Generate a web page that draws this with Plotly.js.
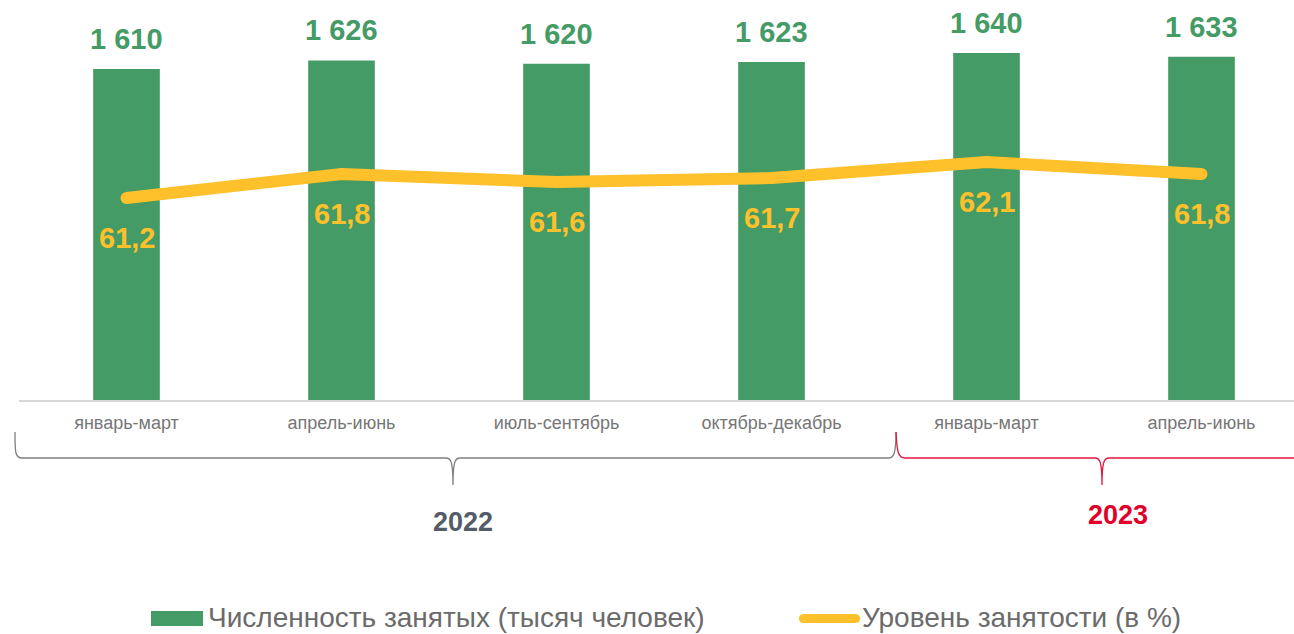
<!DOCTYPE html>
<html>
<head>
<meta charset="utf-8">
<script src="https://cdn.plot.ly/plotly-3.0.1.min.js"></script>
<style>html,body{margin:0;padding:0;background:#fff;}#chart{width:1294px;height:634px;}</style>
</head>
<body>
<div id="chart"></div>
<script>
// ---- data ----
var periods = ["январь-март", "апрель-июнь", "июль-сентябрь", "октябрь-декабрь", "январь-март", "апрель-июнь"];
var employed = [1610, 1626, 1620, 1623, 1640, 1633];       // тысяч человек
var employmentRate = [61.2, 61.8, 61.6, 61.7, 62.1, 61.8];  // %
var years = ["2022", "2023"];
var seriesNames = ["Численность занятых (тысяч человек)", "Уровень занятости (в %)"];

// ---- style ----
var GREEN = "#459B65", YELLOW = "#FFC12B", GREY_TXT = "#767676";
var W = 1294, H = 634, ML = 19, MR = 0, MT = 0, MB = 234;
var PW = W - ML - MR, PH = H - MT - MB;
function px(x) { return (x - ML) / PW; }
function py(y) { return (H - MB - y) / PH; }
function pathPx(cmds) {
  return cmds.map(function (c) {
    var s = c[0];
    for (var i = 1; i < c.length; i += 2) s += " " + px(c[i]).toFixed(5) + "," + py(c[i + 1]).toFixed(5);
    return s;
  }).join(" ");
}
var idx = periods.map(function (_, i) { return i; });
var FONT = "Liberation Sans, Arial, sans-serif";

var bars = {
  type: "bar", x: idx, y: employed, name: seriesNames[0],
  marker: { color: GREEN }, width: 0.31, hoverinfo: "skip", showlegend: false
};
var line = {
  type: "scatter", mode: "lines+markers", x: idx, y: employmentRate, yaxis: "y2",
  name: seriesNames[1], line: { color: YELLOW, width: 12 },
  marker: { color: YELLOW, size: 12, line: { width: 0 } }, hoverinfo: "skip", showlegend: false
};

var annotations = [];
employed.forEach(function (v, i) {
  annotations.push({
    x: i, y: v, xref: "x", yref: "y", text: String(v).replace(/\B(?=(\d{3})+(?!\d))/g, " "),
    showarrow: false, yanchor: "middle", yshift: 30,
    font: { family: FONT, size: 29, color: GREEN, weight: "bold" }
  });
});
employmentRate.forEach(function (v, i) {
  annotations.push({
    x: i, y: v, xref: "x", yref: "y2", text: v.toFixed(1).replace(".", ","),
    showarrow: false, yanchor: "middle", yshift: -40,
    font: { family: FONT, size: 29, color: YELLOW, weight: "bold" }
  });
});
// year labels
annotations.push({ xref: "paper", yref: "paper", x: px(463), y: py(522), text: years[0], showarrow: false,
  xanchor: "center", yanchor: "middle", font: { family: FONT, size: 27, color: "#535C68", weight: "bold" } });
annotations.push({ xref: "paper", yref: "paper", x: px(1118), y: py(515), text: years[1], showarrow: false,
  xanchor: "center", yanchor: "middle", font: { family: FONT, size: 27, color: "#E0002A", weight: "bold" } });
// legend texts
annotations.push({ xref: "paper", yref: "paper", x: px(206), y: py(617), text: seriesNames[0], showarrow: false,
  xanchor: "left", yanchor: "middle", font: { family: FONT, size: 28, color: "#6B6B6B" } });
annotations.push({ xref: "paper", yref: "paper", x: px(860), y: py(617), text: seriesNames[1], showarrow: false,
  xanchor: "left", yanchor: "middle", font: { family: FONT, size: 28, color: "#6B6B6B" } });

var shapes = [
  { type: "path", xref: "paper", yref: "paper", line: { color: "#7F7F7F", width: 1.3 },
    path: pathPx([["M", 15, 432], ["C", 15, 452, 15, 458, 22, 458], ["L", 446, 458],
                  ["C", 451, 458, 453, 462, 453, 485], ["C", 453, 462, 455, 458, 460, 458],
                  ["L", 889, 458], ["C", 894, 458, 896, 452, 896, 432]]) },
  { type: "path", xref: "paper", yref: "paper", line: { color: "#E3173E", width: 1.3 },
    path: pathPx([["M", 896, 432], ["C", 897, 452, 898, 458, 905, 458], ["L", 1095, 458],
                  ["C", 1100, 458, 1102, 462, 1102, 485], ["C", 1102, 462, 1104, 458, 1109, 458],
                  ["L", 1300, 458]]) },
  { type: "rect", xref: "paper", yref: "paper", x0: px(151), x1: px(203), y0: py(611), y1: py(626),
    fillcolor: GREEN, line: { width: 0 } },
  { type: "path", xref: "paper", yref: "paper", fillcolor: YELLOW, line: { width: 0 },
    path: pathPx([["M", 804, 614], ["L", 855, 614], ["Q", 860, 614, 860, 618.5], ["Q", 860, 623, 855, 623],
                  ["L", 804, 623], ["Q", 799, 623, 799, 618.5], ["Q", 799, 614, 804, 614]]) + " Z" }
];

var layout = {
  width: W, height: H, margin: { l: ML, r: MR, t: MT, b: MB, pad: 0 },
  paper_bgcolor: "#fff", plot_bgcolor: "#fff", showlegend: false,
  xaxis: { range: [-0.5, -0.5 + PW / 215], tickvals: idx, ticktext: periods, showgrid: false, zeroline: false,
    showline: true, linecolor: "#D9D9D9", linewidth: 2, ticks: "", fixedrange: true,
    tickfont: { family: FONT, size: 18, color: GREY_TXT }, ticklabelstandoff: 5 },
  yaxis: { range: [989.4, 1739.4], visible: false, fixedrange: true },
  yaxis2: { range: [56.15, 66.15], overlaying: "y", visible: false, fixedrange: true },
  annotations: annotations, shapes: shapes
};
Plotly.newPlot("chart", [bars, line], layout, { displayModeBar: false, staticPlot: true });
</script>
</body>
</html>
